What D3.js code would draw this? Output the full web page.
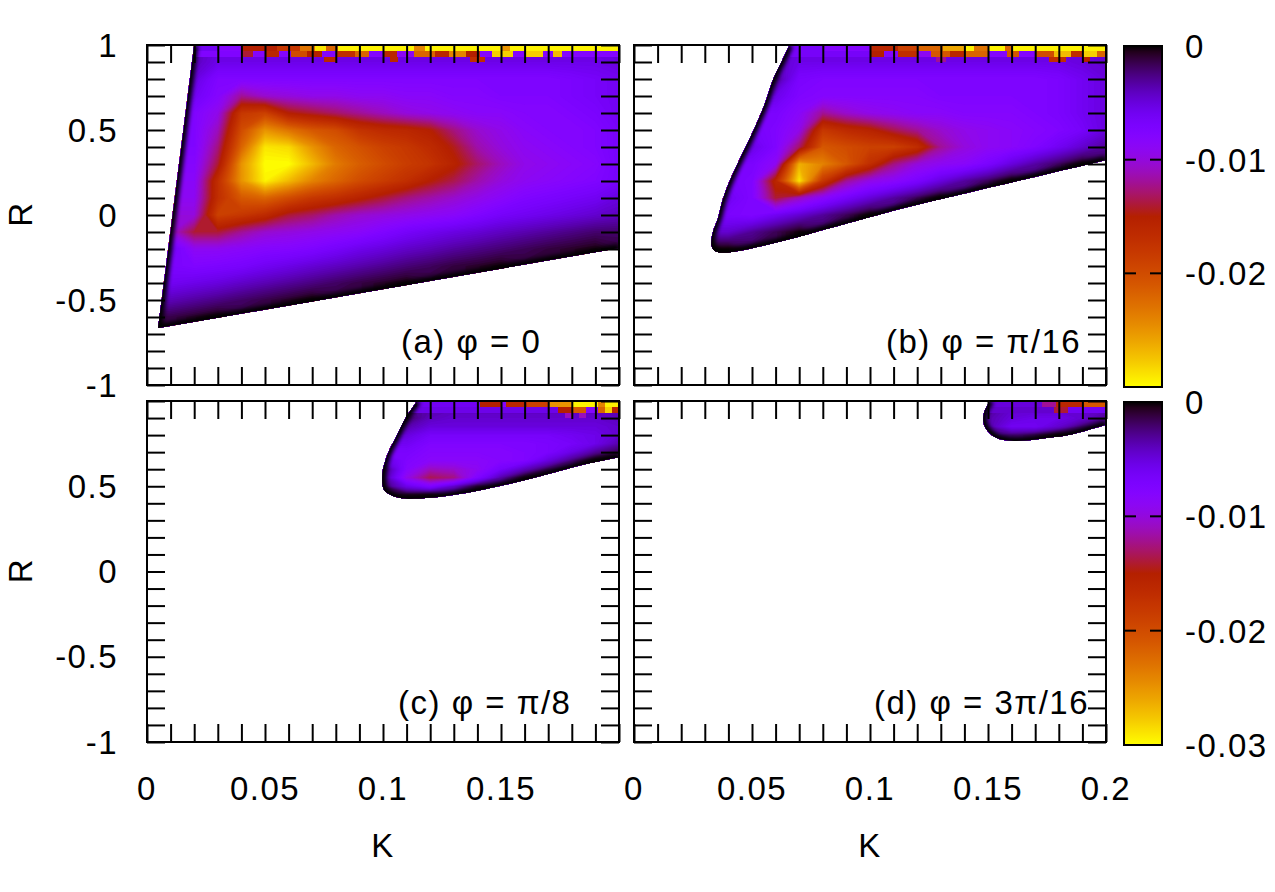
<!DOCTYPE html>
<html><head><meta charset="utf-8">
<script src="https://cdn.jsdelivr.net/npm/d3@7"></script>
<style>
html,body{margin:0;padding:0;background:#fff;}
svg{display:block;}
text{font-family:"Liberation Sans",Arial,Helvetica,sans-serif;font-size:33px;fill:#000;letter-spacing:1.5px;}
</style></head><body>
<svg id="chart" width="1275" height="892"></svg>
<script>
const n = null;
// ---------- tick labels ----------
const kTickValuesC = [0, 0.05, 0.1, 0.15];
const kTickLabelsC = ["0", "0.05", "0.1", "0.15"];
const kTickValuesD = [0, 0.05, 0.1, 0.15, 0.2];
const kTickLabelsD = ["0", "0.05", "0.1", "0.15", "0.2"];
const rTickValuesTop = [1, 0.5, 0, -0.5, -1];
const rTickLabelsTop = ["1", "0.5", "0", "-0.5", "-1"];
const rTickValuesBottom = [0.5, 0, -0.5, -1];
const rTickLabelsBottom = ["0.5", "0", "-0.5", "-1"];
const cbTickValuesTop = [0, -0.01, -0.02];
const cbTickLabelsTop = ["0", "-0.01", "-0.02"];
const cbTickValuesBottom = [0, -0.01, -0.02, -0.03];
const cbTickLabelsBottom = ["0", "-0.01", "-0.02", "-0.03"];
const panelLabels = ["(a) \u03c6 = 0", "(b) \u03c6 = \u03c0/16", "(c) \u03c6 = \u03c0/8", "(d) \u03c6 = 3\u03c0/16"];

// ---------- sampled field values (units of 1e-3), rows from top R downwards ----------
const kGridAB = [0,0.01,0.02,0.03,0.04,0.05,0.06,0.07,0.08,0.09,0.10,0.11,0.12,0.13,0.14,0.15,0.16,0.17,0.18,0.19,0.20];
const rGridA = [1.0,0.9,0.8,0.7,0.6,0.5,0.4,0.3,0.2,0.1,0.0,-0.1,-0.2,-0.3,-0.4,-0.5,-0.6,-0.7];
const valuesA = [
 [n,n,-4,-5,-5,-5,-5,-5,-5,-5,-5,-5,-5,-5,-5,-5,-5,-5,-5,-5,-4.5],
 [n,n,-4,-5.5,-5.5,-5.5,-5.5,-5.5,-5.5,-5.5,-5.5,-5.5,-5.5,-5.5,-5.5,-5.5,-5.5,-5.5,-5.5,-5.5,-5],
 [n,n,-5,-7.5,-7.5,-7.5,-7.5,-7.5,-7.5,-7.5,-7.5,-7.5,-7.5,-7.5,-7.5,-7.5,-7.5,-7.5,-7,-6.5,-6],
 [n,n,-6,-8,-12,-10.5,-10,-9.5,-9.5,-9,-9,-8.5,-8.5,-8,-8,-7.5,-7.5,-7.5,-7,-6.5,-6],
 [n,n,-7.5,-9.5,-18,-19,-15,-14,-13,-12,-11,-10,-9.5,-9,-8.5,-8.5,-8,-8,-7.5,-7,-6],
 [n,n,-7.5,-11,-20,-25,-23,-21,-20,-17.5,-16.5,-16,-15,-12.5,-10.5,-9.5,-8.5,-8,-8,-7.5,-6.5],
 [n,n,-7.5,-12.5,-22,-29,-28.5,-25,-22,-20.5,-19,-18,-16.5,-14.5,-11.5,-10,-9,-8.5,-8,-7.5,-6.5],
 [n,n,-8,-14,-25,-30,-30,-27,-23.5,-21.5,-20,-18.5,-17.5,-15.5,-13,-11,-9.5,-9,-8.5,-8,-6.5],
 [n,n,-8.5,-17,-25,-29.5,-27,-24,-22,-20,-18.5,-17,-15,-13.5,-11.5,-10,-9,-8.5,-8,-7.5,-6.5],
 [n,n,-9,-17,-21,-22,-20,-18,-17,-15.5,-14,-12.5,-11.5,-10.5,-9.5,-8.5,-7.5,-7,-6.5,-6,-5],
 [n,n,-10,-19,-18,-16.5,-14,-13,-11.5,-10.5,-10,-9.5,-9,-8.5,-7.5,-6.5,-6,-5.5,-5,-4.5,-4],
 [n,n,-14,-14,-12,-10.5,-10,-9.5,-9,-8.5,-7.5,-6.5,-5.8,-5.2,-4.7,-4.1,-3.6,-3.1,-2.6,-2.1,-2],
 [n,-6,-9,-9,-8.5,-8,-7.8,-7.3,-6.5,-5.6,-5,-4.3,-3.8,-3.2,-2.7,-2.2,-1.7,-1.2,-0.8,-0.4,n],
 [n,-7,-7.5,-7.2,-6.8,-6,-5.4,-4.7,-4.1,-3.5,-2.9,-2.3,-1.8,-1.2,-0.8,-0.3,n,n,n,n,n],
 [n,-6,-5.5,-5,-4.3,-3.7,-3.1,-2.5,-1.9,-1.3,-0.8,-0.3,n,n,n,n,n,n,n,n,n],
 [n,-3.8,-3.2,-2.6,-2,-1.4,-0.8,-0.2,n,n,n,n,n,n,n,n,n,n,n,n,n],
 [n,-1.4,-0.8,-0.2,n,n,n,n,n,n,n,n,n,n,n,n,n,n,n,n,n],
 [n,n,n,n,n,n,n,n,n,n,n,n,n,n,n,n,n,n,n,n,n]
];
const rGridB = [1.0,0.9,0.8,0.7,0.6,0.5,0.4,0.3,0.2,0.1,0.0,-0.1,-0.2];
const valuesB = [
 [n,n,n,n,n,n,n,-5,-5,-5,-5,-5,-5,-5,-5,-5,-5,-5,-5,-5,-4.5],
 [n,n,n,n,n,n,n,-5.5,-5.5,-5.5,-5.5,-5.5,-5.5,-5.5,-5.5,-5.5,-5.5,-5.5,-5.5,-5,-4.5],
 [n,n,n,n,n,n,-3,-7,-7.5,-7.5,-7.5,-7.5,-7.5,-7.5,-7.5,-7.5,-7.5,-7.5,-7,-6,-5],
 [n,n,n,n,n,n,-5.5,-7.5,-8,-8,-8,-8,-8,-7.5,-7.5,-7.5,-7.5,-7.5,-7,-6,-5],
 [n,n,n,n,n,n,-7,-8.5,-12,-10.5,-9.5,-9,-8.5,-8.5,-8,-8,-8,-7.5,-7,-6,-5],
 [n,n,n,n,n,n,-7.5,-9.5,-18,-16.5,-15.5,-13.5,-12,-10.5,-9.5,-9,-8.5,-8,-7.5,-6.5,-5],
 [n,n,n,n,n,-5.5,-7.5,-13,-21,-20,-19,-19,-17,-12,-10,-9,-8.5,-7.5,-6,-4.5,-3],
 [n,n,n,n,n,-7,-9,-26.5,-24,-21,-17,-12.5,-10,-9,-8.5,-7,-5,-3.3,-1.9,-0.4,n],
 [n,n,n,n,n,-7.5,-16,-29,-18,-12,-9.5,-8.5,-7,-5,-3.2,-1.8,-0.3,n,n,n,n],
 [n,n,n,n,-6,-7.5,-14,-11,-8.5,-6.5,-4.8,-3.2,-1.7,-0.3,n,n,n,n,n,n,n],
 [n,n,n,n,-7,-7.5,-6,-4.6,-3.1,-1.7,-0.3,n,n,n,n,n,n,n,n,n,n],
 [n,n,n,n,-4.5,-3,-1.6,-0.2,n,n,n,n,n,n,n,n,n,n,n,n,n],
 [n,n,n,n,-0.2,n,n,n,n,n,n,n,n,n,n,n,n,n,n,n,n]
];
const kGridC = [0.09,0.10,0.11,0.12,0.13,0.14,0.15,0.16,0.17,0.18,0.19,0.20];
const rGridC = [1.0,0.95,0.9,0.85,0.8,0.75,0.7,0.65,0.6,0.55,0.5,0.45,0.4];
const valuesC = [
 [n,n,n,-3,-4,-4,-4,-4,-4,-4,-4,-4],
 [n,n,n,-3.5,-4,-4,-4,-4,-4,-4,-4,-4],
 [n,n,-2,-4,-4.5,-4.5,-4.5,-4.5,-4.5,-4.5,-4.5,-4],
 [n,n,-3.5,-5,-5,-5,-5,-5,-5,-5,-5,-4.5],
 [n,n,-5,-6.5,-6.5,-6.5,-6.5,-6.5,-6.5,-6,-5.5,-4.5],
 [n,n,-6,-7.5,-7.5,-7.5,-7.5,-7.5,-7,-6.5,-5.5,-3.5],
 [n,n,-7,-8,-8,-8,-8,-7.5,-7,-5.3,-3,-1.5],
 [n,n,-7.5,-8.5,-8.5,-8.5,-8,-7.5,-5,-2.5,-0.3,n],
 [n,-2,-8,-11,-10.5,-9,-6.5,-4,-1.8,n,n,n],
 [n,-2.5,-9.5,-13.5,-12.5,-7.5,-3.5,-0.8,n,n,n,n],
 [n,-2,-5.5,-7.5,-4.5,-1.5,n,n,n,n,n,n],
 [n,n,-1,-0.8,n,n,n,n,n,n,n,n],
 [n,n,n,n,n,n,n,n,n,n,n,n]
];
const kGridD = [0.14,0.15,0.16,0.17,0.18,0.19,0.20];
const rGridD = [1.0,0.95,0.9,0.85,0.8,0.75];
const valuesD = [
 [n,-3.5,-4,-4.5,-4.5,-4.5,-4.5],
 [n,-3,-4.5,-4.5,-4.5,-4.5,-4],
 [n,-3.5,-5,-5.5,-5.5,-4.5,-3],
 [n,-3.5,-6,-6,-4.5,-2.5,n],
 [n,n,-2.5,-2,-0.5,n,n],
 [n,n,n,n,n,n,n]
];

// ---------- region boundaries [K, R] (closed through the corner K=0.2, R=1) ----------
const boundaryA = [[0.0200,1.0],[0.0047,-0.665],[0.2,-0.194]];
const boundaryB = [[0.0658,1.0],[0.0628,0.91],[0.059,0.80],[0.0552,0.647],[0.0497,0.47],[0.0446,0.324],[0.0405,0.20],[0.0375,0.088],[0.0355,-0.02],[0.0333,-0.106],[0.0330,-0.184],[0.0354,-0.218],[0.12,0.061],[0.2,0.324]];
const boundaryC = [[0.1145,1.0],[0.1096,0.90],[0.1053,0.783],[0.1018,0.685],[0.0997,0.568],[0.1004,0.48],[0.1032,0.45],[0.108,0.43],[0.126,0.441],[0.147,0.494],[0.168,0.564],[0.185,0.627],[0.2,0.67]];
const boundaryD = [[0.151,1.0],[0.1485,0.94],[0.148,0.88],[0.1494,0.832],[0.1537,0.783],[0.160,0.767],[0.166,0.768],[0.1727,0.779],[0.184,0.80],[0.1953,0.842],[0.2,0.861]];

// ---------- noisy top band near R = 1: [K0, K1, value(1e-3)] ----------
const bandRowsR = [[0.965,1.0],[0.93,0.965],[0.90,0.93]];
const bandA1 = [[0.0197,0.030,-6],[0.030,0.040,-8],[0.040,0.055,-15],[0.055,0.065,-18],[0.065,0.071,-23],[0.071,0.076,-29],[0.076,0.081,-22],[0.081,0.113,-29.5],[0.113,0.118,-24],[0.118,0.150,-29.5],[0.150,0.154,-25],[0.154,0.200,-29.5]];
const bandA2 = [[0.0197,0.040,-7.5],[0.040,0.045,-14],[0.045,0.050,-8],[0.050,0.056,-16],[0.056,0.061,-8],[0.061,0.068,-20],[0.068,0.074,-15],[0.074,0.080,-8],[0.080,0.088,-17],[0.088,0.094,-22],[0.094,0.100,-8],[0.100,0.106,-16],[0.106,0.113,-9],[0.113,0.122,-22],[0.122,0.128,-16],[0.128,0.135,-24],[0.135,0.141,-15],[0.141,0.146,-8],[0.146,0.155,-28],[0.155,0.160,-8],[0.160,0.168,-28],[0.168,0.172,-8],[0.172,0.176,-27],[0.176,0.200,-8]];
const bandA3 = [[0.075,0.080,-16],[0.103,0.106,-16],[0.137,0.143,-17]];
const bandB1 = [[0.064,0.080,-6.5],[0.080,0.100,-8],[0.100,0.112,-16],[0.112,0.120,-19],[0.120,0.131,-22],[0.131,0.140,-26],[0.140,0.144,-29.5],[0.144,0.150,-23],[0.150,0.157,-29.5],[0.157,0.160,-22],[0.160,0.200,-29.5]];
const bandB2 = [[0.066,0.100,-6.5],[0.100,0.106,-15],[0.106,0.112,-8],[0.112,0.120,-17],[0.120,0.126,-9],[0.126,0.134,-21],[0.134,0.140,-16],[0.140,0.150,-22],[0.150,0.158,-8],[0.158,0.163,-21],[0.163,0.170,-8],[0.170,0.178,-20],[0.178,0.185,-27],[0.185,0.190,-17],[0.190,0.196,-28],[0.196,0.200,-22]];
const bandB3 = [[0.128,0.132,-12],[0.176,0.183,-17],[0.190,0.193,-15]];
const bandC1 = [[0.1145,0.141,-6],[0.141,0.150,-15],[0.150,0.152,-8],[0.152,0.161,-16],[0.161,0.170,-19],[0.170,0.180,-25],[0.180,0.191,-29.5],[0.191,0.194,-24],[0.194,0.200,-29.5]];
const bandC2 = [[0.112,0.174,-5.5],[0.174,0.180,-15],[0.180,0.186,-21],[0.186,0.191,-8],[0.191,0.194,-22],[0.194,0.197,-28],[0.197,0.200,-16]];
const bandC3 = [[0.177,0.180,-11],[0.183,0.186,-11]];
const bandD1 = [[0.150,0.173,-5],[0.173,0.179,-12],[0.179,0.190,-16],[0.190,0.200,-21]];
const bandD2 = [[0.148,0.178,-4.5],[0.178,0.184,-14],[0.184,0.200,-6]];
const bandD3 = [];

// ---------- layout ----------
const W = 1275, H = 892;
const colX = [[147, 619], [634, 1106]];
const rowY = [[45, 385], [401, 742]];
const panels = [
  {id:"a", col:0, row:0, kGrid:kGridAB, rGrid:rGridA, values:valuesA, boundary:boundaryA, curve:d3.curveLinear, bands:[bandA1,bandA2,bandA3], label:panelLabels[0], lx:401, ly:353},
  {id:"b", col:1, row:0, kGrid:kGridAB, rGrid:rGridB, values:valuesB, boundary:boundaryB, curve:d3.curveCatmullRom, bands:[bandB1,bandB2,bandB3], label:panelLabels[1], lx:886, ly:353},
  {id:"c", col:0, row:1, kGrid:kGridC, rGrid:rGridC, values:valuesC, boundary:boundaryC, curve:d3.curveCatmullRom, bands:[bandC1,bandC2,bandC3], label:panelLabels[2], lx:398, ly:714},
  {id:"d", col:1, row:1, kGrid:kGridD, rGrid:rGridD, values:valuesD, boundary:boundaryD, curve:d3.curveCatmullRom, bands:[bandD1,bandD2,bandD3], label:panelLabels[3], lx:874, ly:714}
];

// gnuplot "rgbformulae 7,5,15" palette
function palette(t){
  t = Math.max(0, Math.min(1, t));
  return d3.rgb(255*Math.sqrt(t), 255*t*t*t, 255*Math.max(0, Math.sin(2*Math.PI*t))).formatHex();
}
const color = d3.scaleSequential(palette).domain([0, -0.03]).clamp(true);

const svg = d3.select("#chart");
svg.append("rect").attr("width", W).attr("height", H).attr("fill", "#fff");
const defs = svg.append("defs");
defs.append("filter").attr("id","edgeBlur").attr("filterUnits","userSpaceOnUse")
  .attr("x",0).attr("y",0).attr("width",W).attr("height",H)
  .append("feGaussianBlur").attr("stdDeviation",2.2);

// fill cells outside the region (hidden by the clip) so the contouring has a full grid
function fillGaps(rows){
  let g = rows.map(r => r.slice());
  const ny = g.length, nx = g[0].length;
  for (let iter = 0; iter < 200; iter++) {
    let missing = false;
    const next = g.map(r => r.slice());
    for (let j = 0; j < ny; j++) for (let i = 0; i < nx; i++) {
      if (g[j][i] !== null) continue;
      let s = 0, c = 0;
      [[1,0],[-1,0],[0,1],[0,-1]].forEach(([di,dj]) => {
        const a = j + dj, b = i + di;
        if (a >= 0 && a < ny && b >= 0 && b < nx && g[a][b] !== null) { s += g[a][b]; c++; }
      });
      if (c) next[j][i] = s / c; else missing = true;
    }
    g = next;
    if (!missing) break;
  }
  return g;
}

const step = 0.00025;
const thresholds = d3.range(-0.0305, 0.0003, step);

panels.forEach(p => {
  const [x0, x1] = colX[p.col], [y0, y1] = rowY[p.row];
  const x = d3.scaleLinear().domain([0, 0.2]).range([x0, x1]);
  const y = d3.scaleLinear().domain([-1, 1]).range([y1, y0]);
  const g = svg.append("g").attr("class", "panel-" + p.id);

  const line = d3.line().x(d => x(d[0])).y(d => y(d[1])).curve(p.curve);
  const regionPath = line(p.boundary) + `L${x(0.2)},${y(1)}Z`;
  const clipId = "clip-" + p.id;
  defs.append("clipPath").attr("id", clipId).append("path").attr("d", regionPath);
  const field = g.append("g").attr("clip-path", `url(#${clipId})`);

  const ny = p.values.length, nx = p.values[0].length;
  const filled = fillGaps(p.values);
  const flat = [];
  for (let j = 0; j < ny; j++) for (let i = 0; i < nx; i++) flat.push(filled[j][i] * 1e-3);
  const kIdx = d3.scaleLinear().domain([0, nx - 1]).range([p.kGrid[0], p.kGrid[nx - 1]]);
  const rIdx = d3.scaleLinear().domain([0, ny - 1]).range([p.rGrid[0], p.rGrid[ny - 1]]);
  const proj = d3.geoTransform({ point: function(px, py){ this.stream.point(x(kIdx(px - 0.5)), y(rIdx(py - 0.5))); } });
  const gpath = d3.geoPath(proj);
  const contours = d3.contours().size([nx, ny]).thresholds(thresholds)(flat);
  field.append("g").selectAll("path").data(contours).join("path")
    .attr("d", gpath).attr("fill", d => color(d.value + step / 2));

  p.bands.forEach((segs, bi) => {
    const [r0, r1] = bandRowsR[bi];
    field.append("g").attr("shape-rendering", "crispEdges").selectAll("rect").data(segs).join("rect")
      .attr("x", d => x(d[0])).attr("width", d => x(d[1]) - x(d[0]) + 0.4)
      .attr("y", y(r1)).attr("height", y(r0) - y(r1) + 0.4)
      .attr("fill", d => color(d[2] * 1e-3));
  });

  field.append("path").attr("d", line(p.boundary)).attr("fill", "none")
    .attr("stroke", "#000").attr("stroke-width", 8).attr("filter", "url(#edgeBlur)");

  // ticks (inward, mirrored)
  const tl = 18;
  const axes = g.append("g").attr("class", "ticks");
  axes.append("g").attr("transform", `translate(0,${y1})`).call(d3.axisBottom(x).tickValues(x.ticks(20)).tickSize(-tl).tickFormat(""));
  axes.append("g").attr("transform", `translate(0,${y0})`).call(d3.axisTop(x).tickValues(x.ticks(20)).tickSize(-tl).tickFormat(""));
  axes.append("g").attr("transform", `translate(${x0},0)`).call(d3.axisLeft(y).tickValues(y.ticks(20)).tickSize(-tl).tickFormat(""));
  axes.append("g").attr("transform", `translate(${x1},0)`).call(d3.axisRight(y).tickValues(y.ticks(20)).tickSize(-tl).tickFormat(""));
  axes.selectAll(".domain").remove();
  axes.selectAll(".tick line").attr("stroke", "#000").attr("stroke-width", 2);
  axes.selectAll(".tick text").remove();

  g.append("rect").attr("x", x0).attr("y", y0).attr("width", x1 - x0).attr("height", y1 - y0)
    .attr("fill", "none").attr("stroke", "#000").attr("stroke-width", 2);

  g.append("text").attr("x", p.lx).attr("y", p.ly).text(p.label);

  if (p.col === 0) {
    const vals = p.row === 0 ? rTickValuesTop : rTickValuesBottom;
    const labs = p.row === 0 ? rTickLabelsTop : rTickLabelsBottom;
    g.append("g").selectAll("text").data(vals).join("text")
      .attr("x", 118).attr("y", d => y(d) + 11.5).attr("text-anchor", "end")
      .text((d, i) => labs[i]);
    g.append("text").attr("transform", `translate(32,${(y0 + y1) / 2 - 1}) rotate(-90)`)
      .attr("text-anchor", "middle").text("R");
  }
  if (p.row === 1) {
    const vals = p.col === 0 ? kTickValuesC : kTickValuesD;
    const labs = p.col === 0 ? kTickLabelsC : kTickLabelsD;
    g.append("g").selectAll("text").data(vals).join("text")
      .attr("x", d => x(d)).attr("y", 800).attr("text-anchor", "middle")
      .text((d, i) => labs[i]);
    g.append("text").attr("x", (x0 + x1) / 2).attr("y", 857).attr("text-anchor", "middle").text("K");
  }
});

// ---------- colour boxes ----------
const grad = defs.append("linearGradient").attr("id", "cbGrad").attr("x1", 0).attr("y1", 0).attr("x2", 0).attr("y2", 1);
grad.selectAll("stop").data(d3.range(0, 61)).join("stop")
  .attr("offset", d => d / 60).attr("stop-color", d => color(-0.03 * d / 60));
const cbX = [1124, 1162];
const colorBoxes = [
  {y:[46, 387], vals:cbTickValuesTop, labs:cbTickLabelsTop},
  {y:[402, 745], vals:cbTickValuesBottom, labs:cbTickLabelsBottom}
];
colorBoxes.forEach(cb => {
  const cy = d3.scaleLinear().domain([0, -0.03]).range(cb.y);
  const g = svg.append("g");
  g.append("rect").attr("x", cbX[0]).attr("y", cb.y[0]).attr("width", cbX[1] - cbX[0]).attr("height", cb.y[1] - cb.y[0])
    .attr("fill", "url(#cbGrad)").attr("stroke", "#000").attr("stroke-width", 2);
  const inner = cb.vals.filter(v => v !== 0 && v !== -0.03);
  g.selectAll("line.l").data(inner).join("line").attr("x1", cbX[0]).attr("x2", cbX[0] + 12)
    .attr("y1", d => cy(d)).attr("y2", d => cy(d)).attr("stroke", "#000").attr("stroke-width", 2);
  g.selectAll("line.r").data(inner).join("line").attr("x1", cbX[1] - 12).attr("x2", cbX[1])
    .attr("y1", d => cy(d)).attr("y2", d => cy(d)).attr("stroke", "#000").attr("stroke-width", 2);
  g.selectAll("text").data(cb.vals).join("text").attr("x", 1185).attr("y", d => cy(d) + 12)
    .text((d, i) => cb.labs[i]);
});
</script>
</body></html>
